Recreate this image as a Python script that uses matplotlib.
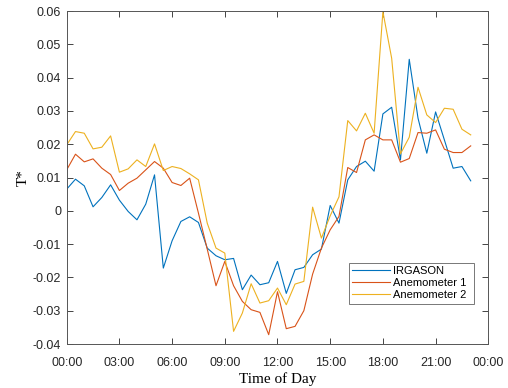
import numpy as np
import pandas as pd
import matplotlib
matplotlib.use('Agg')
import matplotlib.pyplot as plt
import matplotlib.dates as mdates
from matplotlib.ticker import FuncFormatter

# half-hourly values, 00:00 .. 23:00
irgason = [0.0065, 0.0095, 0.0075, 0.0012, 0.0040, 0.0078, 0.0032, -0.0002, -0.0027, 0.0020,
           0.0108, -0.0172, -0.0090, -0.0032, -0.0018, -0.0035, -0.0112, -0.0135, -0.0147, -0.0143,
           -0.0237, -0.0193, -0.0222, -0.0216, -0.0152, -0.0248, -0.0177, -0.0170, -0.0132, -0.0115,
           0.0016, -0.0037, 0.0093, 0.0133, 0.0149, 0.0119, 0.0291, 0.0311, 0.0153, 0.0455,
           0.0278, 0.0173, 0.0297, 0.0213, 0.0128, 0.0133, 0.0090]
anemo1 = [0.0123, 0.0170, 0.0147, 0.0156, 0.0128, 0.0109, 0.0061, 0.0083, 0.0098, 0.0123,
          0.0148, 0.0128, 0.0085, 0.0076, 0.0098, -0.0007, -0.0115, -0.0225, -0.0152, -0.0225,
          -0.0272, -0.0297, -0.0305, -0.0372, -0.0243, -0.0354, -0.0347, -0.0300, -0.0190, -0.0112,
          -0.0057, -0.0017, 0.0130, 0.0115, 0.0213, 0.0228, 0.0213, 0.0213, 0.0146, 0.0157,
          0.0235, 0.0233, 0.0243, 0.0185, 0.0175, 0.0175, 0.0195]
anemo2 = [0.0198, 0.0238, 0.0233, 0.0186, 0.0191, 0.0225, 0.0116, 0.0126, 0.0153, 0.0133,
          0.0201, 0.0121, 0.0133, 0.0127, 0.0111, 0.0093, -0.0037, -0.0112, -0.0127, -0.0362,
          -0.0307, -0.0219, -0.0277, -0.0270, -0.0232, -0.0282, -0.0220, -0.0212, 0.0011, -0.0082,
          -0.0015, 0.0042, 0.0271, 0.0240, 0.0293, 0.0233, 0.0598, 0.0458, 0.0171, 0.0221,
          0.0371, 0.0288, 0.0265, 0.0308, 0.0305, 0.0245, 0.0228]
labels = ['IRGASON', 'Anemometer 1', 'Anemometer 2']

times = pd.date_range('2000-01-01 00:00', periods=len(irgason), freq='30min')

plt.rcParams['font.family'] = ['Liberation Sans', 'DejaVu Sans']
plt.rcParams['axes.unicode_minus'] = False

fig = plt.figure(figsize=(5.08, 3.88), dpi=100)
ax = fig.add_axes([0.1313, 0.1134, 0.8299, 0.8582])

colors = ['#0072BD', '#D95319', '#EDB120']
for y, c, lab in zip([irgason, anemo1, anemo2], colors, labels):
    ax.plot(times, y, color=c, lw=0.8, label=lab)

ax.set_xlim(pd.Timestamp('2000-01-01 00:00'), pd.Timestamp('2000-01-02 00:00'))
ax.set_ylim(-0.04, 0.06)
ax.xaxis.set_major_locator(mdates.HourLocator(byhour=range(0, 24, 3)))
ax.xaxis.set_major_formatter(mdates.DateFormatter('%H:%M'))
ax.set_yticks(np.arange(-0.04, 0.0601, 0.01))
ax.yaxis.set_major_formatter(FuncFormatter(lambda v, p: '0' if abs(v) < 1e-9 else '%.2f' % v))

ax.tick_params(direction='in', length=4, width=0.6, top=True, right=True,
               labelsize=9, colors='#262626')
ax.tick_params(axis='x', pad=9)
ax.tick_params(axis='y', pad=4)
for s in ax.spines.values():
    s.set_color('#555555')
    s.set_linewidth(0.7)

ax.set_xlabel('Time of Day', family=['Liberation Serif'], fontsize=11, labelpad=3)
ax.set_ylabel('T*', family=['Liberation Serif'], fontsize=11, labelpad=2)

leg = ax.legend(loc='lower left', bbox_to_anchor=(0.6685, 0.121, 0.2985, 0.145), mode='expand',
                fontsize=8, frameon=True, fancybox=False, borderpad=0.3, handlelength=3.4,
                handletextpad=0.3, labelspacing=0.2, borderaxespad=0)
leg.get_frame().set_edgecolor('#555555')
leg.get_frame().set_linewidth(0.7)

fig.savefig('out.png', dpi=100)
